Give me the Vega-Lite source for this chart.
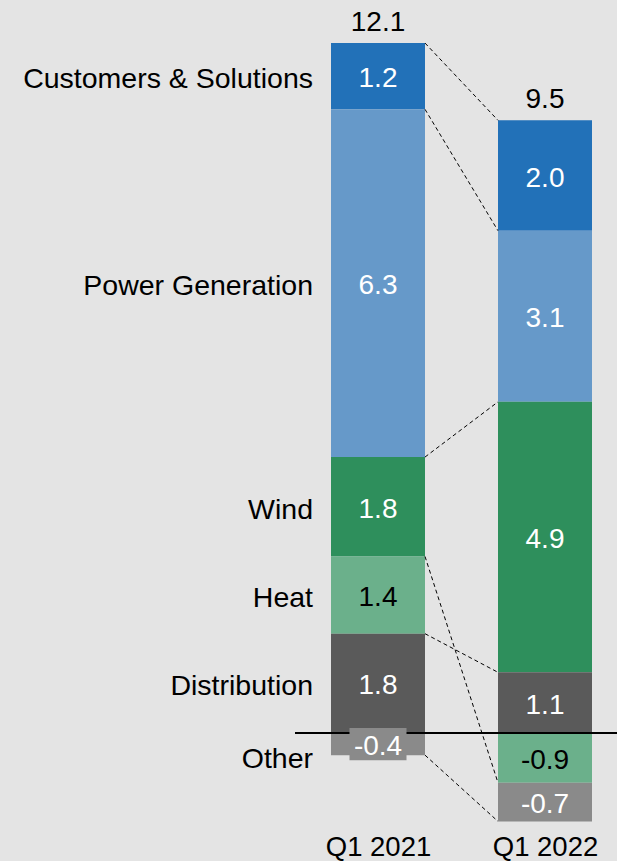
{
  "$schema": "https://vega.github.io/schema/vega-lite/v6.json",
  "autosize": {"type": "none"},
  "padding": {"left": 295, "top": 0, "right": 0, "bottom": 33},
  "width": 322,
  "height": 828,
  "background": "#e4e4e4",
  "config": {
    "view": {"stroke": null},
    "font": "Liberation Sans",
    "locale": {"number": {"decimal": ".", "thousands": ",", "grouping": [3], "currency": ["$", ""], "minus": "-"}}
  },
  "data": {
    "values": [
      {"quarter": "Q1 2021", "category": "Customers & Solutions", "order": 5, "value": 1.2},
      {"quarter": "Q1 2021", "category": "Power Generation", "order": 4, "value": 6.3},
      {"quarter": "Q1 2021", "category": "Wind", "order": 3, "value": 1.8},
      {"quarter": "Q1 2021", "category": "Heat", "order": 2, "value": 1.4},
      {"quarter": "Q1 2021", "category": "Distribution", "order": 1, "value": 1.8},
      {"quarter": "Q1 2021", "category": "Other", "order": 6, "value": -0.4},
      {"quarter": "Q1 2022", "category": "Customers & Solutions", "order": 5, "value": 2.0},
      {"quarter": "Q1 2022", "category": "Power Generation", "order": 4, "value": 3.1},
      {"quarter": "Q1 2022", "category": "Wind", "order": 3, "value": 4.9},
      {"quarter": "Q1 2022", "category": "Heat", "order": 2, "value": -0.9},
      {"quarter": "Q1 2022", "category": "Distribution", "order": 1, "value": 1.1},
      {"quarter": "Q1 2022", "category": "Other", "order": 6, "value": -0.7}
    ]
  },
  "transform": [
    {"stack": "value", "groupby": ["quarter"], "sort": [{"field": "order", "order": "ascending"}], "as": ["v0", "v1"], "offset": "zero"},
    {"calculate": "(datum.v0 + datum.v1) / 2", "as": "mid"}
  ],
  "encoding": {
    "x": {
      "field": "quarter", "type": "nominal",
      "scale": {"type": "point", "range": [83, 250], "padding": 0},
      "axis": {"title": null, "domain": false, "ticks": false, "labelAngle": 0, "labelFontSize": 27.5, "labelColor": "#000000", "labelPadding": 5, "labelFont": "Liberation Sans"}
    }
  },
  "layer": [
    {
      "mark": {"type": "bar", "size": 94},
      "encoding": {
        "y": {"field": "v1", "type": "quantitative", "scale": {"domain": [-1.72, 13.28], "nice": false, "zero": false}, "axis": null},
        "y2": {"field": "v0"},
        "color": {
          "field": "category", "type": "nominal", "legend": null,
          "scale": {
            "domain": ["Customers & Solutions", "Power Generation", "Wind", "Heat", "Distribution", "Other"],
            "range": ["#2271b8", "#6699c9", "#2e8f5c", "#6bb08b", "#5a5a5a", "#8a8a8a"]
          }
        }
      }
    },
    {
      "transform": [{"pivot": "quarter", "value": "v1", "groupby": ["category"]}],
      "mark": {"type": "rule", "strokeDash": [4, 3], "strokeWidth": 1, "color": "#000000", "xOffset": 47, "x2Offset": -47},
      "encoding": {
        "x": {"datum": "Q1 2021"},
        "x2": {"datum": "Q1 2022"},
        "y": {"field": "Q1 2021", "type": "quantitative"},
        "y2": {"field": "Q1 2022"}
      }
    },
    {
      "mark": {"type": "rule", "color": "#000000", "strokeWidth": 1.5},
      "encoding": {"x": null, "y": {"datum": 0, "type": "quantitative"}}
    },
    {
      "transform": [{"filter": "datum.category == 'Other' && datum.quarter == 'Q1 2021'"}],
      "mark": {"type": "bar", "size": 47, "color": "#8a8a8a", "stroke": "#8a8a8a", "strokeWidth": 10},
      "encoding": {
        "y": {"field": "v1", "type": "quantitative"},
        "y2": {"field": "v0"}
      }
    },
    {
      "mark": {"type": "text", "fontSize": 28, "baseline": "middle", "align": "center", "dy": 3},
      "encoding": {
        "y": {"field": "mid", "type": "quantitative"},
        "text": {"field": "value", "type": "quantitative", "format": ".1f"},
        "color": {"condition": {"test": "datum.category == 'Heat'", "value": "#000000"}, "value": "#ffffff"}
      }
    },
    {
      "transform": [
        {"aggregate": [{"op": "sum", "field": "value", "as": "total"}, {"op": "max", "field": "v1", "as": "top"}], "groupby": ["quarter"]}
      ],
      "mark": {"type": "text", "fontSize": 28, "baseline": "middle", "align": "center", "dy": -20, "color": "#000000"},
      "encoding": {
        "y": {"field": "top", "type": "quantitative"},
        "text": {"field": "total", "type": "quantitative", "format": ".1f"}
      }
    },
    {
      "transform": [{"filter": "datum.quarter == 'Q1 2021' && datum.category != 'Other'"}],
      "mark": {"type": "text", "fontSize": 28.5, "baseline": "middle", "align": "right", "dx": -65, "dy": 3, "color": "#000000"},
      "encoding": {
        "y": {"field": "mid", "type": "quantitative"},
        "text": {"field": "category", "type": "nominal"}
      }
    },
    {
      "transform": [{"filter": "datum.quarter == 'Q1 2021' && datum.category == 'Other'"}],
      "mark": {"type": "text", "fontSize": 28.5, "baseline": "middle", "align": "right", "dx": -65, "dy": 15, "color": "#000000"},
      "encoding": {
        "y": {"field": "mid", "type": "quantitative"},
        "text": {"field": "category", "type": "nominal"}
      }
    }
  ]
}
